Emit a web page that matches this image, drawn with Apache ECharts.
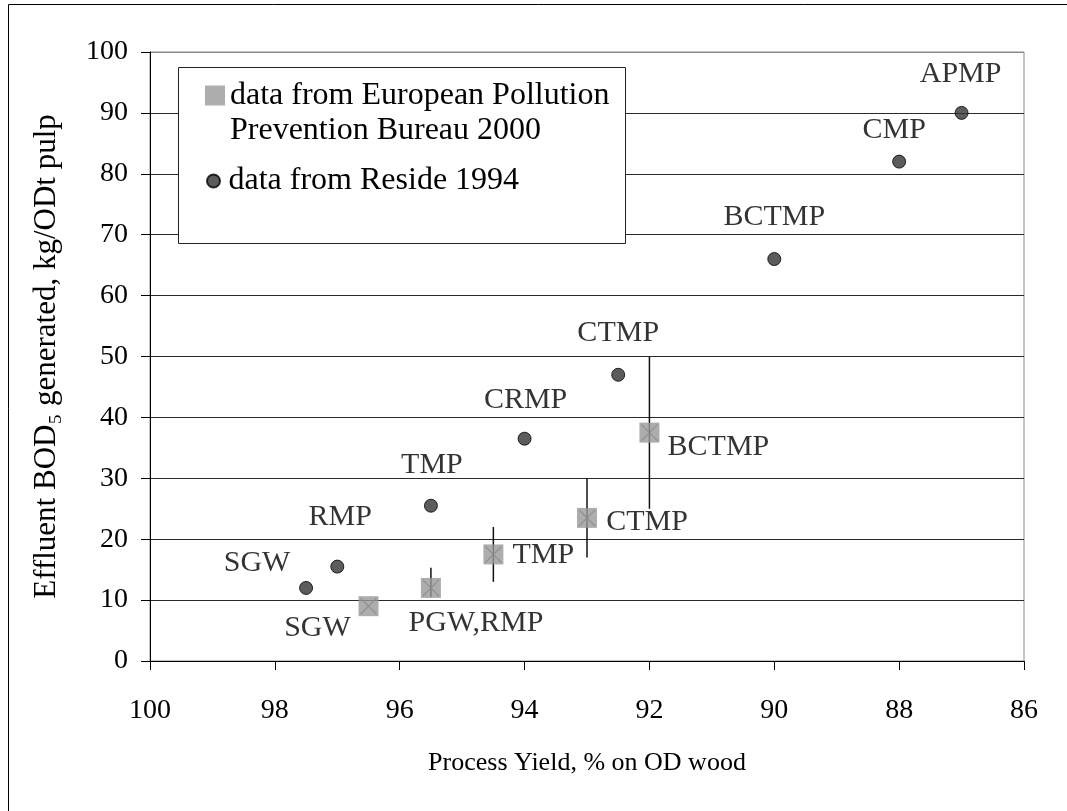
<!DOCTYPE html>
<html>
<head>
<meta charset="utf-8">
<script src="https://cdn.jsdelivr.net/npm/echarts@6/dist/echarts.min.js"></script>
<style>
html, body { margin: 0; padding: 0; background: #fff; }
#chart { width: 1067px; height: 811px; }
</style>
</head>
<body>
<div id="chart"></div>
<script>
// European Pollution Prevention Bureau 2000 (squares with range bars)
var eppbNames = ['SGW', 'PGW,RMP', 'TMP', 'CTMP', 'BCTMP'];
var eppbYield = [96.5, 95.5, 94.5, 93, 92];
var eppbBod = [9, 12, 17.5, 23.5, 37.5];
var eppbLow = [null, 10.5, 13, 17, 25];
var eppbHigh = [null, 15.3, 22, 30, 50];

// Reside 1994 (circles)
var resNames = ['SGW', 'RMP', 'TMP', 'CRMP', 'CTMP', 'BCTMP', 'CMP', 'APMP'];
var resYield = [97.5, 97, 95.5, 94, 92.5, 90, 88, 87];
var resBod = [12, 15.5, 25.5, 36.5, 47, 66, 82, 90];

var xTicks = [100, 98, 96, 94, 92, 90, 88, 86];

var eppbSeriesName = 'data from European Pollution Prevention Bureau 2000';
var resSeriesName = 'data from Reside 1994';

// label offsets from the marker centre, in px
var eppbLabelOffsets = [[-51, 22], [45, 35], [50, 1], [60, 4], [69, 14]];
var resLabelOffsets = [[-49, -25], [3, -49], [1, -41], [1, -39], [0, -42], [0, -42], [-5, -31], [-1, -39]];

var font = "'Liberation Serif', 'Times New Roman', serif";

var eppbData = eppbNames.map(function(n, i) {
	return {
		name: n,
		value: [eppbYield[i], eppbBod[i]],
		label: { offset: eppbLabelOffsets[i] }
	};
});
var resData = resNames.map(function(n, i) {
	return {
		name: n,
		value: [resYield[i], resBod[i]],
		label: { offset: resLabelOffsets[i] }
	};
});
var barData = [];
for (var i = 0; i < eppbNames.length; i++) {
	if (eppbLow[i] != null) barData.push([eppbYield[i], eppbLow[i], eppbHigh[i]]);
}
var crossData = eppbNames.map(function(n, i) { return [eppbYield[i], eppbBod[i]]; });

var gridColors = [];
for (var k = 0; k < 10; k++) gridColors.push('#2a2a2a');
gridColors.push('#8a8a8a');

var pointLabel = {
	show: true,
	position: 'inside',
	formatter: '{b}',
	color: '#000',
	fontFamily: font,
	fontSize: 30
};

var legendRich = {
	pad: { lineHeight: 35, fontSize: 10 },
	t: { fontFamily: font, fontSize: 32, color: '#000', lineHeight: 35 }
};

var option = {
	animation: false,
	backgroundColor: '#fff',
	textStyle: { fontFamily: font },
	graphic: [{
		type: 'rect',
		shape: { x: 8.5, y: 4.5, width: 1100, height: 900 },
		style: { fill: 'none', stroke: '#000', lineWidth: 1 },
		silent: true
	}, {
		type: 'rect',
		shape: { x: 178.5, y: 67.5, width: 447, height: 176 },
		style: { fill: '#fff', stroke: '#222', lineWidth: 1 },
		z: 50,
		silent: true
	}],
	grid: {
		left: 150,
		right: 43,
		top: 52,
		bottom: 150,
		show: true,
		borderColor: '#8a8a8a',
		borderWidth: 1,
		backgroundColor: 'transparent'
	},
	legend: [{
		orient: 'vertical',
		left: 205,
		top: 55.5,
		padding: 0,
		z: 60,
		itemWidth: 20,
		itemHeight: 20,
		data: [{ name: eppbSeriesName, icon: 'rect' }],
		formatter: function() {
			return '{pad| }\n{t|data from European Pollution}\n{t|Prevention Bureau 2000}';
		},
		textStyle: { fontFamily: font, fontSize: 32, color: '#000', rich: legendRich }
	}, {
		orient: 'vertical',
		left: 206,
		top: 163.5,
		padding: 0,
		z: 60,
		itemWidth: 20,
		itemHeight: 13,
		data: [{ name: resSeriesName, icon: 'circle' }],
		textStyle: { fontFamily: font, fontSize: 32, color: '#000', lineHeight: 35 }
	}],
	xAxis: {
		type: 'value',
		inverse: true,
		min: xTicks[xTicks.length - 1],
		max: xTicks[0],
		interval: 2,
		name: 'Process Yield, % on OD wood',
		nameLocation: 'middle',
		nameGap: 89,
		nameTextStyle: { fontFamily: font, fontSize: 26, color: '#000' },
		axisLine: { lineStyle: { color: '#000', width: 1 } },
		axisTick: { show: true, length: 9, lineStyle: { color: '#000' } },
		axisLabel: { fontFamily: font, fontSize: 28, color: '#000', margin: 36 },
		splitLine: { show: false }
	},
	yAxis: {
		type: 'value',
		min: 0,
		max: 100,
		interval: 10,
		name: 'Effluent BOD\u2085 generated, kg/ODt pulp',
		nameLocation: 'middle',
		nameGap: 88,
		nameTextStyle: { fontFamily: font, fontSize: 31, color: '#000' },
		axisLine: { show: true, lineStyle: { color: '#000', width: 1 } },
		axisTick: { show: true, length: 9, lineStyle: { color: '#000' } },
		axisLabel: { fontFamily: font, fontSize: 28, color: '#000', margin: 22 },
		splitLine: { show: true, lineStyle: { color: gridColors, width: 1 } }
	},
	series: [{
		name: 'range',
		type: 'custom',
		z: 2,
		silent: true,
		renderItem: function(params, api) {
			var lo = api.coord([api.value(0), api.value(1)]);
			var hi = api.coord([api.value(0), api.value(2)]);
			return {
				type: 'line',
				shape: { x1: lo[0], y1: lo[1], x2: hi[0], y2: hi[1] },
				style: { stroke: '#111', lineWidth: 1.5 }
			};
		},
		encode: { x: 0, y: [1, 2] },
		data: barData
	}, {
		name: eppbSeriesName,
		type: 'scatter',
		z: 3,
		symbol: 'rect',
		symbolSize: 20,
		itemStyle: { color: '#999999' },
		label: pointLabel,
		data: eppbData
	}, {
		name: 'cross',
		type: 'scatter',
		z: 4,
		silent: true,
		symbol: 'path://M1,0 L10,9 L19,0 L20,1 L11,10 L20,19 L19,20 L10,11 L1,20 L0,19 L9,10 L0,1 Z',
		symbolSize: 17,
		itemStyle: { color: '#8a8a8a' },
		data: crossData
	}, {
		name: resSeriesName,
		type: 'scatter',
		z: 5,
		symbol: 'circle',
		symbolSize: 13,
		itemStyle: { color: '#333333', borderColor: '#000', borderWidth: 1 },
		label: pointLabel,
		data: resData
	}]
};

var chart = echarts.init(document.getElementById('chart'));
chart.setOption(option);
</script>
</body>
</html>
